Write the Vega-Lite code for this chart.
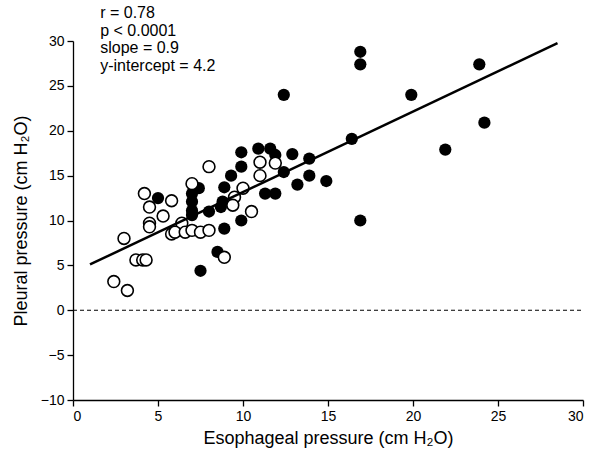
{
  "$schema": "https://vega.github.io/schema/vega-lite/v6.json",
  "width": 510,
  "height": 359,
  "autosize": "none",
  "padding": {"left": 73, "top": 41, "right": 9, "bottom": 57},
  "background": "white",
  "config": {
    "view": {"stroke": null},
    "font": "Liberation Sans",
    "axis": {
      "domainColor": "black", "domainWidth": 1.3, "tickColor": "black", "tickWidth": 1.3,
      "tickSize": 6, "labelFontSize": 14, "labelColor": "black", "titleFontSize": 18,
      "titleFontWeight": "normal", "titleColor": "black", "grid": false,
      "labelFont": "Liberation Sans", "titleFont": "Liberation Sans"
    }
  },
  "datasets": {
    "pts": [
      {"eso": 16.9, "pleu": 28.8, "group": "filled"},
      {"eso": 16.9, "pleu": 27.4, "group": "filled"},
      {"eso": 23.9, "pleu": 27.4, "group": "filled"},
      {"eso": 12.4, "pleu": 24.0, "group": "filled"},
      {"eso": 19.9, "pleu": 24.0, "group": "filled"},
      {"eso": 24.2, "pleu": 20.9, "group": "filled"},
      {"eso": 16.4, "pleu": 19.1, "group": "filled"},
      {"eso": 21.9, "pleu": 17.9, "group": "filled"},
      {"eso": 12.9, "pleu": 17.4, "group": "filled"},
      {"eso": 13.9, "pleu": 16.9, "group": "filled"},
      {"eso": 12.4, "pleu": 15.4, "group": "filled"},
      {"eso": 13.9, "pleu": 15.0, "group": "filled"},
      {"eso": 13.2, "pleu": 14.0, "group": "filled"},
      {"eso": 14.9, "pleu": 14.4, "group": "filled"},
      {"eso": 11.9, "pleu": 13.0, "group": "filled"},
      {"eso": 16.9, "pleu": 10.0, "group": "filled"},
      {"eso": 11.6, "pleu": 18.0, "group": "filled"},
      {"eso": 11.9, "pleu": 17.3, "group": "filled"},
      {"eso": 9.9, "pleu": 17.6, "group": "filled"},
      {"eso": 10.9, "pleu": 18.0, "group": "filled"},
      {"eso": 9.9, "pleu": 16.0, "group": "filled"},
      {"eso": 9.3, "pleu": 15.0, "group": "filled"},
      {"eso": 8.9, "pleu": 13.7, "group": "filled"},
      {"eso": 11.3, "pleu": 13.0, "group": "filled"},
      {"eso": 8.8, "pleu": 12.1, "group": "filled"},
      {"eso": 7.4, "pleu": 13.6, "group": "filled"},
      {"eso": 7.0, "pleu": 13.0, "group": "filled"},
      {"eso": 7.0, "pleu": 12.1, "group": "filled"},
      {"eso": 7.0, "pleu": 11.1, "group": "filled"},
      {"eso": 7.0, "pleu": 10.6, "group": "filled"},
      {"eso": 8.0, "pleu": 11.0, "group": "filled"},
      {"eso": 8.7, "pleu": 11.5, "group": "filled"},
      {"eso": 9.9, "pleu": 10.0, "group": "filled"},
      {"eso": 8.9, "pleu": 9.1, "group": "filled"},
      {"eso": 8.5, "pleu": 6.5, "group": "filled"},
      {"eso": 7.5, "pleu": 4.4, "group": "filled"},
      {"eso": 5.0, "pleu": 12.5, "group": "filled"},
      {"eso": 4.2, "pleu": 13.0, "group": "open"},
      {"eso": 5.8, "pleu": 12.2, "group": "open"},
      {"eso": 4.5, "pleu": 11.5, "group": "open"},
      {"eso": 5.3, "pleu": 10.5, "group": "open"},
      {"eso": 4.5, "pleu": 9.7, "group": "open"},
      {"eso": 4.5, "pleu": 9.3, "group": "open"},
      {"eso": 3.0, "pleu": 8.0, "group": "open"},
      {"eso": 5.8, "pleu": 8.5, "group": "open"},
      {"eso": 3.7, "pleu": 5.6, "group": "open"},
      {"eso": 4.1, "pleu": 5.6, "group": "open"},
      {"eso": 4.3, "pleu": 5.6, "group": "open"},
      {"eso": 2.4, "pleu": 3.2, "group": "open"},
      {"eso": 3.2, "pleu": 2.2, "group": "open"},
      {"eso": 8.0, "pleu": 16.0, "group": "open"},
      {"eso": 7.0, "pleu": 14.1, "group": "open"},
      {"eso": 6.4, "pleu": 9.7, "group": "open"},
      {"eso": 6.0, "pleu": 8.7, "group": "open"},
      {"eso": 6.6, "pleu": 8.7, "group": "open"},
      {"eso": 7.0, "pleu": 8.9, "group": "open"},
      {"eso": 7.5, "pleu": 8.7, "group": "open"},
      {"eso": 8.0, "pleu": 8.9, "group": "open"},
      {"eso": 8.9, "pleu": 5.9, "group": "open"},
      {"eso": 11.0, "pleu": 16.5, "group": "open"},
      {"eso": 11.9, "pleu": 16.4, "group": "open"},
      {"eso": 11.0, "pleu": 15.0, "group": "open"},
      {"eso": 10.0, "pleu": 13.6, "group": "open"},
      {"eso": 9.5, "pleu": 12.6, "group": "open"},
      {"eso": 10.5, "pleu": 11.0, "group": "open"},
      {"eso": 9.4, "pleu": 11.7, "group": "open"}
    ],
    "fit": [
      {"eso": 1.0, "pleu": 5.1},
      {"eso": 28.5, "pleu": 29.75}
    ],
    "zero": [
      {"eso": 0, "pleu": 0},
      {"eso": 30, "pleu": 0}
    ],
    "notes": [
      {"eso": 1.6, "pleu": 33.1, "label": "r = 0.78"},
      {"eso": 1.6, "pleu": 31.15, "label": "p < 0.0001"},
      {"eso": 1.6, "pleu": 29.2, "label": "slope = 0.9"},
      {"eso": 1.6, "pleu": 27.2, "label": "y-intercept = 4.2"}
    ]
  },
  "encoding": {
    "x": {"field": "eso", "type": "quantitative",
      "scale": {"domain": [0, 30], "nice": false, "zero": false},
      "axis": {"title": "Esophageal pressure (cm H₂O)", "values": [0, 5, 10, 15, 20, 25, 30], "titlePadding": 6, "labelPadding": 3}},
    "y": {"field": "pleu", "type": "quantitative",
      "scale": {"domain": [-10, 30], "nice": false, "zero": false},
      "axis": {"title": "Pleural pressure (cm H₂O)", "values": [-10, -5, 0, 5, 10, 15, 20, 25, 30], "titlePadding": 10, "labelPadding": 3}}
  },
  "layer": [
    {
      "data": {"name": "zero"},
      "mark": {"type": "line", "color": "black", "strokeWidth": 1, "strokeDash": [4, 3]},
      "encoding": {}
    },
    {
      "data": {"name": "pts"},
      "transform": [{"filter": "datum.group === 'filled'"}],
      "mark": {"type": "point", "shape": "circle", "filled": true, "size": 150, "color": "black", "opacity": 1}
    },
    {
      "data": {"name": "pts"},
      "transform": [{"filter": "datum.group === 'open'"}],
      "mark": {"type": "point", "shape": "circle", "filled": false, "size": 140, "stroke": "black", "strokeWidth": 1.6, "fill": "white", "fillOpacity": 1, "opacity": 1}
    },
    {
      "data": {"name": "fit"},
      "mark": {"type": "line", "color": "black", "strokeWidth": 2.5},
      "encoding": {}
    },
    {
      "data": {"name": "notes"},
      "mark": {"type": "text", "align": "left", "baseline": "middle", "fontSize": 16, "color": "black", "clip": false, "font": "Liberation Sans"},
      "encoding": {"text": {"field": "label"}}
    }
  ]
}
